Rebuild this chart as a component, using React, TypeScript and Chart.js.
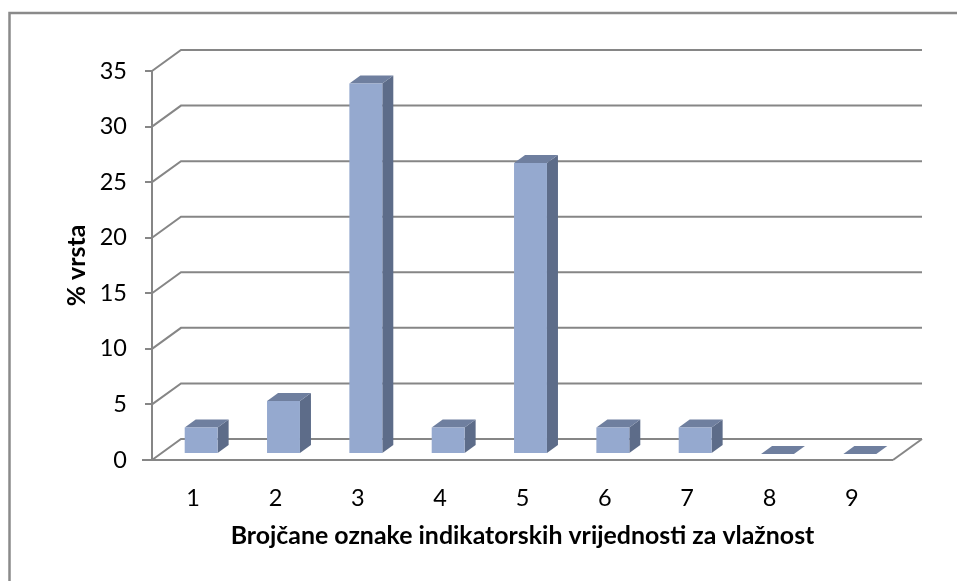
import React, { useEffect, useRef } from "react";
import { Chart, registerables } from "chart.js";

Chart.register(...registerables);

const categories = ["1", "2", "3", "4", "5", "6", "7", "8", "9"];
const percentOfSpecies = [2.38, 4.76, 33.33, 2.38, 26.19, 2.38, 2.38, 0, 0];
const yTicks = [0, 5, 10, 15, 20, 25, 30, 35];
const xTitle = "Brojčane oznake indikatorskih vrijednosti za vlažnost";
const yTitle = "% vrsta";

const GRID = "#868686";
const FRONT = "#95a9cf";
const TOP = "#6f7f9f";
const SIDE = "#5d6c89";
const FONT = "Lato, Carlito, sans-serif";

const DEPTH_X = 29;
const DEPTH_Y = -21;
const BAR_FRONT_X = 8;
const BAR_FRONT_Y = -6;
const BAR_DEPTH_X = 11;
const BAR_DEPTH_Y = -8;

function line(ctx: CanvasRenderingContext2D, pts: number[][]) {
  ctx.beginPath();
  ctx.moveTo(pts[0][0], pts[0][1]);
  for (const p of pts.slice(1)) ctx.lineTo(p[0], p[1]);
  ctx.stroke();
}

function poly(ctx: CanvasRenderingContext2D, pts: number[][], fill: string) {
  ctx.fillStyle = fill;
  ctx.beginPath();
  ctx.moveTo(pts[0][0], pts[0][1]);
  for (const p of pts.slice(1)) ctx.lineTo(p[0], p[1]);
  ctx.closePath();
  ctx.fill();
}

const wallsAndDepth = {
  id: "wallsAndDepth",
  beforeDatasetsDraw(chart: any) {
    const { ctx, chartArea, scales } = chart;
    const { left, right, bottom } = chartArea;
    ctx.save();
    // outer frame: only the top and left edges are visible
    ctx.strokeStyle = "#8a8a8a";
    ctx.lineWidth = 2.5;
    line(ctx, [[9.5, 581], [9.5, 13], [957, 13]]);
    ctx.strokeStyle = GRID;
    ctx.lineWidth = 2;
    for (const v of yTicks) {
      const y = scales.y.getPixelForValue(v);
      line(ctx, [[left, y], [left + DEPTH_X, y + DEPTH_Y], [right + DEPTH_X, y + DEPTH_Y]]);
    }
    // floor
    line(ctx, [[right, bottom], [right + DEPTH_X, bottom + DEPTH_Y]]);
    line(ctx, [[left - 10, bottom], [right, bottom]]);
    // depth faces of every bar
    const meta = chart.getDatasetMeta(0);
    for (const el of meta.data) {
      const half = el.width / 2;
      const l = el.x - half + BAR_FRONT_X;
      const r = el.x + half + BAR_FRONT_X;
      const t = el.y + BAR_FRONT_Y;
      const b = el.base + BAR_FRONT_Y;
      if (b - t > 0.5) {
        poly(ctx, [[r, t], [r + BAR_DEPTH_X, t + BAR_DEPTH_Y], [r + BAR_DEPTH_X, b + BAR_DEPTH_Y], [r, b]], SIDE);
      }
      poly(ctx, [[l, t], [l + BAR_DEPTH_X, t + BAR_DEPTH_Y], [r + BAR_DEPTH_X, t + BAR_DEPTH_Y], [r, t]], TOP);
    }
    ctx.restore();
    // the front faces are drawn by the library, moved into the floor's depth
    ctx.save();
    ctx.translate(BAR_FRONT_X, BAR_FRONT_Y);
  },
  afterDatasetsDraw(chart: any) {
    chart.ctx.restore();
  },
};

export default function App() {
  const ref = useRef<HTMLCanvasElement>(null);
  useEffect(() => {
    const chart = new Chart(ref.current!, {
      type: "bar",
      data: {
        labels: categories,
        datasets: [
          {
            data: percentOfSpecies,
            backgroundColor: FRONT,
            borderWidth: 0,
            barPercentage: 0.4,
            categoryPercentage: 1,
            minBarLength: 0,
          },
        ],
      },
      plugins: [wallsAndDepth],
      options: {
        responsive: false,
        animation: false,
        devicePixelRatio: 1,
        layout: { padding: { left: 60, right: 64, top: 71, bottom: 0 } },
        plugins: { legend: { display: false }, tooltip: { enabled: false } },
        scales: {
          x: {
            grid: { display: false, drawTicks: false },
            border: { display: false },
            ticks: { color: "#000", font: { family: FONT, size: 23.5 }, padding: 24, maxRotation: 0 },
            title: {
              display: true,
              text: xTitle,
              color: "#000",
              font: { family: FONT, size: 24.9, weight: "bold" },
              padding: { top: 8, bottom: 30 },
            },
            afterFit(s: any) {
              s.height = 121;
            },
          },
          y: {
            min: 0,
            max: 35,
            grid: { drawOnChartArea: false, color: GRID, lineWidth: 2, tickLength: 7 },
            border: { color: GRID, width: 2 },
            ticks: { stepSize: 5, color: "#000", font: { family: FONT, size: 23.5 }, padding: 18 },
            title: {
              display: true,
              text: yTitle,
              color: "#000",
              font: { family: FONT, size: 24.9, weight: "bold" },
              padding: { top: 2, bottom: 0 },
            },
            afterFit(s: any) {
              s.width = 92;
            },
          },
        },
      },
    } as any);
    return () => chart.destroy();
  }, []);
  return (
    <div style={{ position: "absolute", left: 0, top: 0, width: 957, height: 581, background: "#fff" }}>
      <canvas ref={ref} width={957} height={581} style={{ display: "block" }} />
    </div>
  );
}
